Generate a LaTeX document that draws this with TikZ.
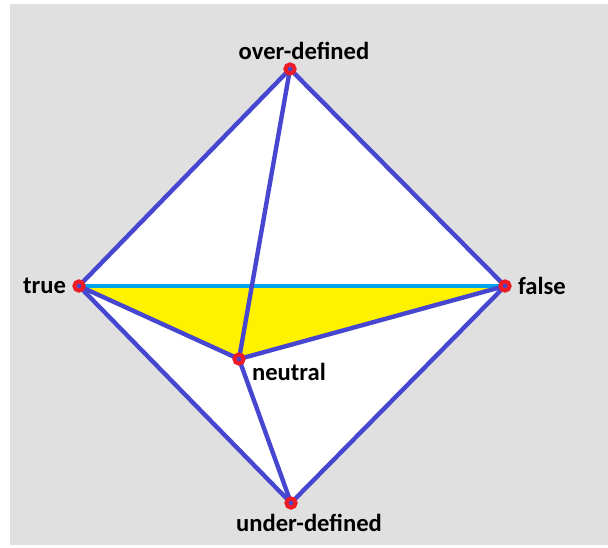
\documentclass[tikz,border=0pt]{standalone}
\usepackage{fontspec}
\setmainfont{Carlito}
\usetikzlibrary{positioning}
\definecolor{bggray}{RGB}{224,224,224}
\definecolor{edgeblue}{RGB}{70,70,208}
\definecolor{midcyan}{RGB}{0,162,232}
\definecolor{faceyellow}{RGB}{255,242,0}
\definecolor{ringred}{RGB}{237,28,36}

\begin{document}
\begin{tikzpicture}[x=0.5pt,y=-0.5pt,font=\fontsize{12.3}{14}\selectfont\bfseries,
  edge/.style={draw=edgeblue,line width=2.2pt,line cap=round},
  vert/.style={circle,draw=ringred,line width=2pt,inner sep=0pt,minimum size=4.6pt},
  lbl/.style={inner sep=0pt}]
% canvas
\useasboundingbox (0,0) rectangle (608,547);
\fill[bggray] (10,4) rectangle (608,545);
% corners of the diamond
\coordinate (o) at (290,69);
\coordinate (t) at (79,286);
\coordinate (f) at (505,286);
\coordinate (n) at (239,359);
\coordinate (u) at (291,503);
% faces
\fill[white] (o) -- (f) -- (u) -- (t) -- cycle;
\fill[faceyellow] (t) -- (f) -- (n) -- cycle;
\draw[midcyan,line width=2pt] (t) -- (f);
% edges
\draw[edge] (o) -- (t);
\draw[edge] (o) -- (f);
\draw[edge] (t) -- (u);
\draw[edge] (f) -- (u);
\draw[edge] (o) -- (n);
\draw[edge] (t) -- (n);
\draw[edge] (f) -- (n);
\draw[edge] (n) -- (u);
% vertices and their names
\node[vert] (vo) at (o) {};
\node[vert] (vt) at (t) {};
\node[vert] (vf) at (f) {};
\node[vert] (vn) at (n) {};
\node[vert] (vu) at (u) {};
\node[lbl,above=1pt of vo,xshift=7pt] {over-defined};
\node[lbl,left=3pt of vt] {true};
\node[lbl,right=3pt of vf] {false};
\node[lbl,below right=-0.5pt and 4pt of vn] {neutral};
\node[lbl,below=2pt of vu,xshift=9pt] {under-defined};
\end{tikzpicture}
\end{document}
